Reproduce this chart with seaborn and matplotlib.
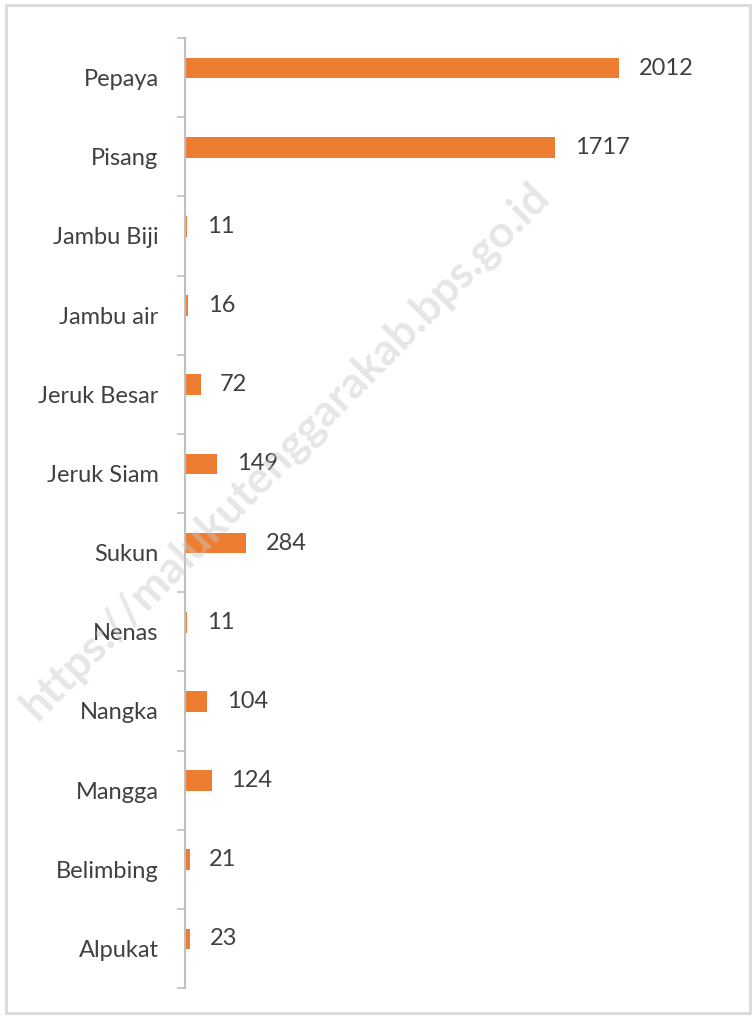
import matplotlib
matplotlib.use("Agg")
import matplotlib.pyplot as plt
import seaborn as sns
import numpy as np
from matplotlib.patches import Rectangle
from matplotlib.ticker import FixedLocator

categories = ["Pepaya", "Pisang", "Jambu Biji", "Jambu air", "Jeruk Besar", "Jeruk Siam",
              "Sukun", "Nenas", "Nangka", "Mangga", "Belimbing", "Alpukat"]
values = [2012, 1717, 11, 16, 72, 149, 284, 11, 104, 124, 21, 23]

sns.set_theme(style="white")
plt.rcParams['font.family'] = ['Lato', 'DejaVu Sans']

ORANGE = "#ED7D31"
TEXT = "#404040"
AXIS = "#BFBFBF"

fig = plt.figure(figsize=(7.53, 10.16), dpi=100)
ax = fig.add_axes([185/753, 1 - 988/1016, (740-185)/753, (988-38)/1016])

sns.barplot(x=values, y=categories, orient="h", color=ORANGE, width=0.26,
            saturation=1, ax=ax)
shift = -0.12
for p in ax.patches:
    p.set_y(p.get_y() + shift)
    p.set_edgecolor("none")

ax.set_xlim(0, 2573)
ax.set_ylim(len(categories) - 0.5, -0.5)

for i, v in enumerate(values):
    ax.annotate(str(v), xy=(v, i + shift), xytext=(14, 0), textcoords="offset points",
                va="center", ha="left", fontsize=17, color=TEXT)

sns.despine(ax=ax, left=False, bottom=True, top=True, right=True)
ax.spines["left"].set_color(AXIS)
ax.spines["left"].set_linewidth(1.5)
ax.set_xticks([])
ax.set_xlabel("")
ax.set_ylabel("")
ax.tick_params(axis="y", which="major", length=0, pad=19, labelsize=17, labelcolor=TEXT)
ax.yaxis.set_minor_locator(FixedLocator(np.arange(-0.5, len(categories), 1.0)))
ax.tick_params(axis="y", which="minor", length=6, width=1.2, color=AXIS, left=True)

# watermark
fig.text(0.378, 0.556, "https://malukutenggarakab.bps.go.id", rotation=45.5, fontsize=32,
         fontweight="bold", color="#C8C8C8", alpha=0.45, ha="center", va="center",
         rotation_mode="anchor")

# outer border
fig.patches.append(Rectangle((6/753, 1 - 1013/1016), (750-6)/753, (1013-5)/1016,
                             transform=fig.transFigure, fill=False,
                             edgecolor="#D9D9D9", linewidth=2))

fig.savefig("out.png", dpi=100)
